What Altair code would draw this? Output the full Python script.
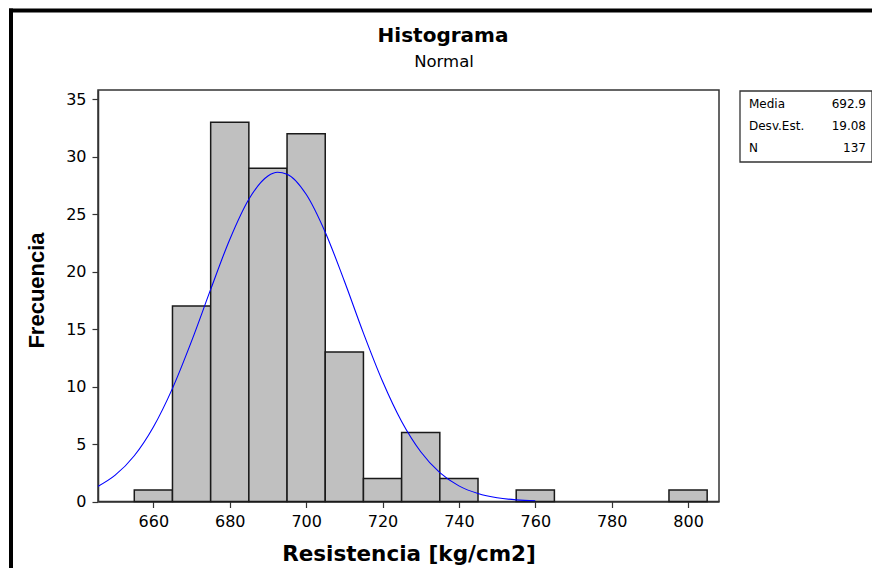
import altair as alt
import pandas as pd

# ---- data ----
bin_start = [655, 665, 675, 685, 695, 705, 715, 725, 735, 745, 755, 765, 775, 785, 795]
counts = [1, 17, 33, 29, 32, 13, 2, 6, 2, 0, 1, 0, 0, 0, 1]
bin_width = 10

curve_x = [645, 650, 655, 660, 665, 670, 675, 680, 685, 690, 692.5, 695, 700, 705,
           710, 715, 720, 725, 730, 735, 740, 745, 750, 755, 760]
curve_y = [1.23, 2.29, 3.98, 6.48, 9.84, 13.95, 18.45, 22.80, 26.30, 28.32, 28.64, 28.48,
           26.73, 23.43, 19.18, 14.65, 10.46, 6.96, 4.33, 2.51, 1.36, 0.69, 0.32, 0.14, 0.06]

x_ticks = [660, 680, 700, 720, 740, 760, 780, 800]
y_ticks = [0, 5, 10, 15, 20, 25, 30, 35]

title_main = "Histograma"
title_sub = "Normal"
x_title = "Resistencia [kg/cm2]"
y_title = "Frecuencia"

stat_names = ["Media", "Desv.Est.", "N"]
stat_values = ["692.9", "19.08", "137"]

# ---- tables ----
bars = pd.DataFrame({
    "start": bin_start,
    "end": [b + bin_width for b in bin_start],
    "count": counts,
})
bars = bars[bars["count"] > 0]
curve = pd.DataFrame({"x": curve_x, "y": curve_y})
one = pd.DataFrame({"k": [0]})

W, H = 621, 411.5
xscale = alt.Scale(domain=[645.5, 808.1], nice=False, zero=False)
yscale = alt.Scale(domain=[0, 35.8], nice=False)

tick_font = "DejaVu Sans"

x_axis = alt.Axis(values=x_ticks, grid=False, tickSize=6, labelPadding=6,
                  labelFont=tick_font, labelFontSize=16, labelColor="black",
                  domainColor="#333333", tickColor="#333333", domainWidth=1.5, tickWidth=1.2,
                  title=x_title, titleFont="DejaVu Sans", titleFontSize=21.5,
                  titleFontWeight="bold", titleColor="black", titleX=W / 2, titleY=59,
                  titleBaseline="alphabetic", titleAlign="center")
y_axis = alt.Axis(values=y_ticks, grid=False, tickSize=6, labelPadding=6,
                  labelFont=tick_font, labelFontSize=16, labelColor="black",
                  domainColor="#333333", tickColor="#333333", domainWidth=1.5, tickWidth=1.2,
                  title=y_title, titleFont="Liberation Sans", titleFontSize=22,
                  titleFontWeight="bold", titleColor="black", titleX=-62, titleY=200,
                  titleAngle=270, titleBaseline="middle", titleAlign="center")

bar_layer = alt.Chart(bars).mark_bar(
    fill="#C0C0C0", stroke="#1a1a1a", strokeWidth=1.5
).encode(
    x=alt.X("start:Q", scale=xscale, axis=x_axis),
    x2="end:Q",
    y=alt.Y("count:Q", scale=yscale, axis=y_axis),
    y2=alt.datum(0),
)

curve_layer = alt.Chart(curve).mark_line(
    color="#0000FF", strokeWidth=1.1, interpolate="monotone", clip=True
).encode(
    x=alt.X("x:Q", scale=xscale),
    y=alt.Y("y:Q", scale=yscale),
)

t_main = alt.Chart(one).mark_text(
    text=title_main, font="DejaVu Sans", fontSize=20, fontWeight="bold",
    color="black", align="center", baseline="alphabetic"
).encode(x=alt.value(345), y=alt.value(-48.5))

t_sub = alt.Chart(one).mark_text(
    text=title_sub, font="DejaVu Sans", fontSize=16.5, color="black",
    align="center", baseline="alphabetic"
).encode(x=alt.value(346), y=alt.value(-23.5))

# outer frame (top and left edges visible)
frame_top = alt.Chart(one).mark_rule(color="black", strokeWidth=4).encode(
    x=alt.value(-89), x2=alt.value(790), y=alt.value(-79.5))
frame_left = alt.Chart(one).mark_rule(color="black", strokeWidth=4).encode(
    x=alt.value(-87), y=alt.value(-81.5), y2=alt.value(500))

# statistics box
box = alt.Chart(one).mark_rect(fill="white", stroke="#333333", strokeWidth=1.3).encode(
    x=alt.value(740 - 98), x2=alt.value(872 - 98), y=alt.value(1), y2=alt.value(72))

stat_layers = []
row_y = [14, 36, 58]
for name, val, yy in zip(stat_names, stat_values, row_y):
    stat_layers.append(alt.Chart(one).mark_text(
        text=name, font="DejaVu Sans", fontSize=12, color="black",
        align="left", baseline="middle").encode(x=alt.value(749 - 98), y=alt.value(yy)))
    stat_layers.append(alt.Chart(one).mark_text(
        text=val, font="DejaVu Sans", fontSize=12, color="black",
        align="right", baseline="middle").encode(x=alt.value(866 - 98), y=alt.value(yy)))

chart = alt.layer(
    bar_layer, curve_layer, t_main, t_sub, frame_top, frame_left, box, *stat_layers
).properties(
    width=W, height=H,
    padding={"left": 90, "top": 82, "right": 153, "bottom": 66},
    autosize=alt.AutoSizeParams(type="none"),
    background="white",
).configure_view(
    stroke="#333333", strokeWidth=1.5
)

chart.save("out.html", embed_options={"renderer": "svg", "actions": False})
